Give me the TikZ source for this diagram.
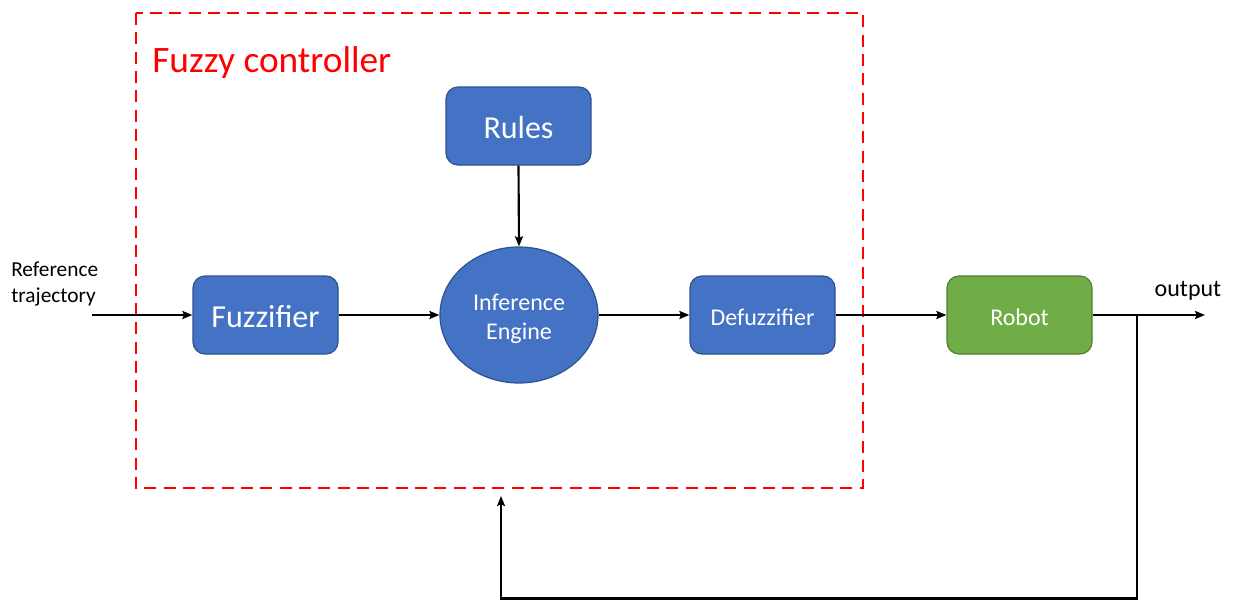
\documentclass[tikz,border=0pt]{standalone}
\usepackage{fontspec}
\setmainfont{Carlito}
\usetikzlibrary{arrows.meta,shapes.geometric}
\definecolor{boxblue}{HTML}{4472C4}
\definecolor{boxblueline}{HTML}{2F528F}
\definecolor{boxgreen}{HTML}{70AD47}
\definecolor{boxgreenline}{HTML}{507E32}
% lower a text line visually without changing its reported size
\newcommand\lowtext[2][2pt]{\raisebox{-#1}[\height][\depth]{#2}}
\tikzset{
  block/.style={rectangle, rounded corners=9pt, fill=boxblue, draw=boxblueline,
    line width=0.9pt, minimum width=108.75pt, minimum height=58.5pt,
    text=white, inner sep=0pt},
  plant/.style={block, fill=boxgreen, draw=boxgreenline},
  engine/.style={ellipse, fill=boxblue, draw=boxblueline, line width=0.9pt,
    minimum width=118.5pt, minimum height=102pt, text=white, inner sep=0pt,
    align=center},
  arr/.style={line width=1.6pt, -{Stealth[length=7.5pt,width=6pt,inset=1.2pt]}},
  bigtxt/.style={font=\fontsize{24}{28}\selectfont},
  midtxt/.style={font=\fontsize{18}{22}\selectfont},
  smalltxt/.style={font=\fontsize{16}{19}\selectfont},
  titletxt/.style={font=\fontsize{28}{32}\selectfont},
}
\begin{document}
\begin{tikzpicture}[x=0.75pt,y=-0.75pt]
\useasboundingbox (0,0) rectangle (1235,600);

% fuzzy controller frame
\draw[red, line width=2.2pt, dash pattern=on 9pt off 5.5pt] (136,13) rectangle (863,488);
\node[anchor=base west, inner sep=0pt, text=red, titletxt] (title) at (152,72) {Fuzzy controller};

% blocks
\node[block, bigtxt] (rules) at (518.5,126) {\lowtext[1.5pt]{Rules}};
\node[block, bigtxt] (fuzz) at (265.5,315) {\lowtext[1.5pt]{Fuzzifier}};
\node[engine, midtxt] (eng) at (519,315) {\lowtext[3pt]{Inference}\\\lowtext[3pt]{Engine}};
\node[block, midtxt] (defuzz) at (762.5,315) {\lowtext{Defuzzifier}};
\node[plant, midtxt] (robot) at (1019.5,315) {\lowtext{Robot}};

% labels
\node[anchor=west, align=left, inner sep=0pt, smalltxt] (ref) at (11,284) {Reference\\trajectory};
\node[inner sep=0pt, midtxt] (outlbl) at (1188,291) {output};

% signal path
\coordinate (in) at (92,315);
\coordinate (out) at (1205,315);
\coordinate (split) at (1137,315);
\coordinate (fbR) at (1137,598.5);
\coordinate (fbL) at (501,598.5);
\coordinate (fbEnd) at (501,496);

\draw[arr] (in) -- (fuzz.west);
\draw[arr] (fuzz.east) -- (eng.west);
\draw[arr] (eng.east) -- (defuzz.west);
\draw[arr] (defuzz.east) -- (robot.west);
\draw[arr] (robot.east) -- (out);
\draw[arr] (rules.south) -- (eng.north);

% feedback from the output back to the controller
\draw[arr] (split) -- (fbR) -- (fbL) -- (fbEnd);
\end{tikzpicture}
\end{document}
